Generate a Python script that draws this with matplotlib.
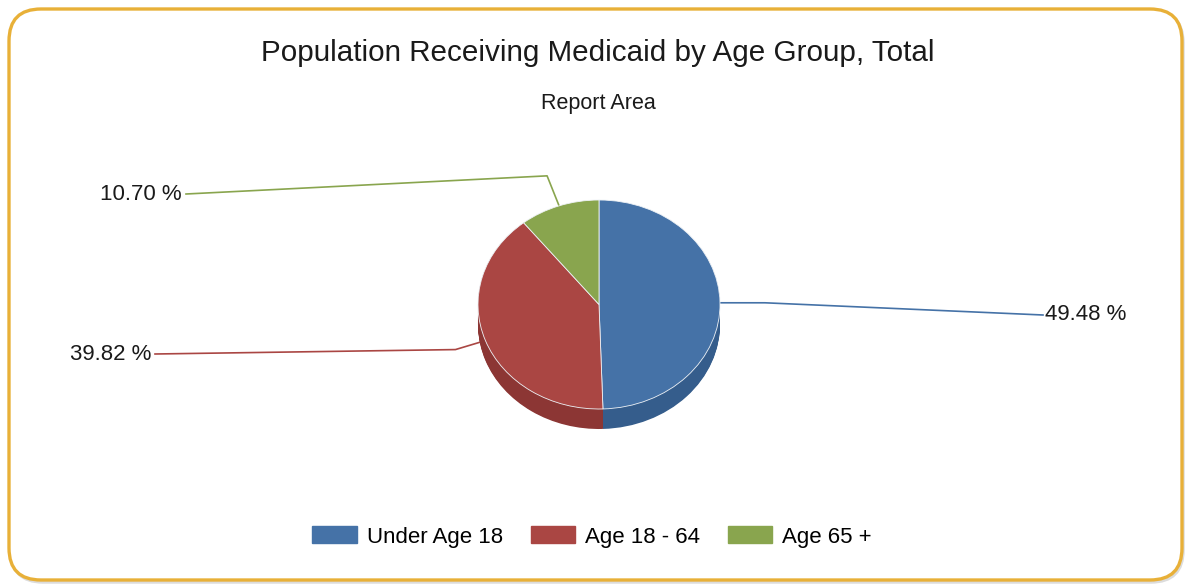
import matplotlib.pyplot as plt
from matplotlib.patches import FancyBboxPatch, Patch
import numpy as np

plt.rcParams['font.family'] = ['Liberation Sans', 'DejaVu Sans']

# data
groups = ["Under Age 18", "Age 18 - 64", "Age 65 +"]
shares = [49.48, 39.82, 10.70]
colors = ["#4572A7", "#AA4643", "#89A54E"]
side_colors = ["#355d8c", "#8c3634", "#6e8a3c"]

W, H = 1187, 586
fig = plt.figure(figsize=(W / 100, H / 100), dpi=100)

# background axes in pixel units (y down)
bg = fig.add_axes([0, 0, 1, 1])
bg.set_xlim(0, W)
bg.set_ylim(H, 0)
bg.axis("off")

# rounded frame with a soft shadow
shadow = FancyBboxPatch((11, 11), W - 15, H - 15, boxstyle="round,pad=0,rounding_size=32",
                        fc="none", ec="#dcdcdc", lw=2.5, zorder=1)
bg.add_patch(shadow)
frame = FancyBboxPatch((9, 9), W - 14, H - 15, boxstyle="round,pad=0,rounding_size=32",
                       fc="white", ec="#E8B038", lw=2.4, zorder=2)
bg.add_patch(frame)

bg.text(598, 53, "Population Receiving Medicaid by Age Group, Total", ha="center", va="center",
        fontsize=21.3, color="#1a1a1a", zorder=5)
bg.text(598, 104, "Report Area", ha="center", va="center", fontsize=15.5, color="#1a1a1a", zorder=5)

# pie geometry (pixels)
cx, cy = 599, 304.5
rx, ry = 121, 104.5
depth = 20
d = depth / ry
m = 1.1
left = cx - m * rx
top = cy - m * ry
w_px = 2 * m * rx
h_px = (2 * m + d) * ry
ax = fig.add_axes([left / W, 1 - (top + h_px) / H, w_px / W, h_px / H])

n_layers = 24
for k in range(n_layers, 0, -1):
    ax.pie(shares, colors=side_colors, startangle=90, counterclock=False,
           center=(0, -d * k / n_layers), radius=1, wedgeprops=dict(linewidth=0))
wedges, _ = ax.pie(shares, colors=colors, startangle=90, counterclock=False,
                   radius=1, wedgeprops=dict(linewidth=0.6, edgecolor="#eef2f6"))
ax.set_aspect("auto")
ax.set_xlim(-m, m)
ax.set_ylim(-m - d, m)
ax.axis("off")

# leader lines and labels
elbow_off = [(45, 0), (-30, 9), (-12, -30)]
label_pos = [(1043, 315), (155, 354), (186, 194)]
label_ha = ["left", "right", "right"]

to_bg = bg.transData.inverted()
for wdg, share, col, eo, lp, ha in zip(wedges, shares, colors, elbow_off, label_pos, label_ha):
    mid = np.deg2rad((wdg.theta1 + wdg.theta2) / 2)
    disp = ax.transData.transform((np.cos(mid), np.sin(mid)))
    x0, y0 = to_bg.transform(disp)
    x1, y1 = x0 + eo[0], y0 + eo[1]
    bg.plot([x0, x1, lp[0]], [y0, y1, lp[1]], color=col, lw=1.2, zorder=3)
    tx = lp[0] + (2 if ha == "left" else -4)
    bg.text(tx, lp[1], f"{share:.2f} %", ha=ha, va="center", fontsize=16, color="#1a1a1a", zorder=5)

handles = [Patch(facecolor=c, edgecolor=c) for c in colors]
fig.legend(handles, groups, loc="center", bbox_to_anchor=(592 / W, 1 - 537 / H), ncol=3,
           frameon=False, fontsize=16, handlelength=2.0, handleheight=0.8,
           handletextpad=0.45, columnspacing=1.25)

fig.savefig("out.png", dpi=100)
